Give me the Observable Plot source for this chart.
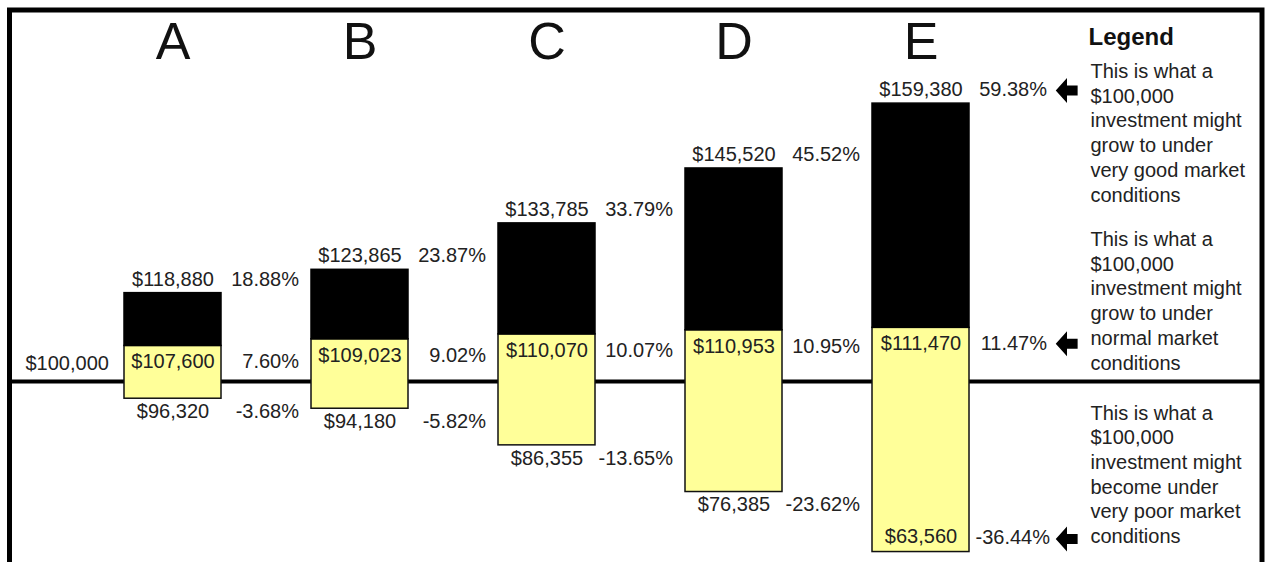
<!DOCTYPE html>
<html>
<head>
<meta charset="utf-8">
<script src="https://cdn.jsdelivr.net/npm/d3@7"></script>
<script src="https://cdn.jsdelivr.net/npm/@observablehq/plot@0.6"></script>
<style>
  html, body { margin: 0; padding: 0; background: #fff; }
  #chart svg { display: block; }
</style>
</head>
<body>
<div id="chart"></div>
<script>
// ---- data ----
const categories = ["A", "B", "C", "D", "E"];
const startValue = 100000;
const highValues = [118880, 123865, 133785, 145520, 159380];
const normalValues = [107600, 109023, 110070, 110953, 111470];
const lowValues = [96320, 94180, 86355, 76385, 63560];
const highPct = ["18.88%", "23.87%", "33.79%", "45.52%", "59.38%"];
const normalPct = ["7.60%", "9.02%", "10.07%", "10.95%", "11.47%"];
const lowPct = ["-3.68%", "-5.82%", "-13.65%", "-23.62%", "-36.44%"];
const legendTitle = "Legend";
const legendHigh = "This is what a\n$100,000\ninvestment might\ngrow to under\nvery good market\nconditions";
const legendNormal = "This is what a\n$100,000\ninvestment might\ngrow to under\nnormal market\nconditions";
const legendLow = "This is what a\n$100,000\ninvestment might\nbecome under\nvery poor market\nconditions";

const rows = categories.map((c, i) => ({
  cat: c, high: highValues[i], normal: normalValues[i], low: lowValues[i],
  highPct: highPct[i], normalPct: normalPct[i], lowPct: lowPct[i]
}));
const last = rows[rows.length - 1];

const money = v => "$" + d3.format(",")(v);
const font = "'Liberation Sans', Arial, Helvetica, sans-serif";
const ink = "#222";
const fs = 20;
const pctDx = 126;
const lowInside = d => d.low < 70000;

const arrowSymbol = {
  draw(ctx, size) {
    const s = Math.sqrt(size / Math.PI);
    ctx.moveTo(-s * 0.9, 0);
    ctx.lineTo(0, -s);
    ctx.lineTo(0, -s * 0.4);
    ctx.lineTo(s * 0.85, -s * 0.4);
    ctx.lineTo(s * 0.85, s * 0.4);
    ctx.lineTo(0, s * 0.4);
    ctx.lineTo(0, s);
    ctx.closePath();
  }
};
const arrow = (key, dy) => Plot.dot([last], {
  x: "cat", y: key, dx: 146, dy, r: 12.5, symbol: arrowSymbol, fill: "#000", stroke: "none"
});
const legendBlock = (text, dy) => Plot.text([text], {
  text: d => d, frameAnchor: "top-left", dx: 1090, dy, lineAnchor: "top",
  textAnchor: "start", lineHeight: 1.235, fontSize: fs, fill: ink, fontFamily: font
});

const chart = Plot.plot({
  width: 1268,
  height: 562,
  marginTop: 0, marginRight: 0, marginBottom: 0, marginLeft: 0,
  style: { fontFamily: font, background: "#fff", overflow: "hidden" },
  x: { type: "band", domain: categories, range: [32.6, 1059.6], padding: 0.483, axis: null },
  y: { type: "linear", domain: [50000, 170000], range: [381 + 50 * 4.68, 381 - 70 * 4.68], axis: null },
  marks: [
    Plot.frame({ stroke: "#000", strokeWidth: 5, insetLeft: 9, insetTop: 9.5, insetRight: 6.5, insetBottom: -10 }),
    Plot.ruleY([startValue], { stroke: "#000", strokeWidth: 4, insetLeft: 9, insetRight: 6.5 }),
    // yellow (poor -> normal) and black (normal -> very good)
    Plot.barY(rows, { x: "cat", y1: "low", y2: "normal", fill: "#ffff99", stroke: "#111", strokeWidth: 1.5 }),
    Plot.barY(rows, { x: "cat", y1: "normal", y2: "high", fill: "#000", stroke: "#000", strokeWidth: 1.5 }),
    // category letters
    Plot.text(categories, { x: d => d, text: d => d, frameAnchor: "top", dy: 22, lineAnchor: "top", fontSize: 52, fill: "#111", fontFamily: font }),
    // starting value
    Plot.text([startValue], { y: d => d, text: money, frameAnchor: "left", dx: 25, dy: -18, textAnchor: "start", fontSize: fs, fill: ink, fontFamily: font }),
    // very good
    Plot.text(rows, { x: "cat", y: "high", text: d => money(d.high), dy: -14, fontSize: fs, fill: ink, fontFamily: font }),
    Plot.text(rows, { x: "cat", y: "high", text: "highPct", dy: -14, dx: pctDx, textAnchor: "end", fontSize: fs, fill: ink, fontFamily: font }),
    // normal
    Plot.text(rows, { x: "cat", y: "normal", text: d => money(d.normal), dy: 16, fontSize: fs, fill: ink, fontFamily: font }),
    Plot.text(rows, { x: "cat", y: "normal", text: "normalPct", dy: 16, dx: pctDx, textAnchor: "end", fontSize: fs, fill: ink, fontFamily: font }),
    // very poor (below bar, or inside when no room)
    Plot.text(rows, { filter: d => !lowInside(d), x: "cat", y: "low", text: d => money(d.low), dy: 13, fontSize: fs, fill: ink, fontFamily: font }),
    Plot.text(rows, { filter: d => !lowInside(d), x: "cat", y: "low", text: "lowPct", dy: 13, dx: pctDx, textAnchor: "end", fontSize: fs, fill: ink, fontFamily: font }),
    Plot.text(rows, { filter: lowInside, x: "cat", y: "low", text: d => money(d.low), dy: -15, fontSize: fs, fill: ink, fontFamily: font }),
    Plot.text(rows, { filter: lowInside, x: "cat", y: "low", text: "lowPct", dy: -14, dx: pctDx + 3, textAnchor: "end", fontSize: fs, fill: ink, fontFamily: font }),
    // arrows pointing at column E values
    arrow("high", -13),
    arrow("normal", 16),
    arrow("low", -13),
    // legend
    Plot.text([legendTitle], { text: d => d, frameAnchor: "top-left", dx: 1088, dy: 27, lineAnchor: "top", textAnchor: "start", fontWeight: "bold", fontSize: 24, fill: "#111", fontFamily: font }),
    legendBlock(legendHigh, 60),
    legendBlock(legendNormal, 228),
    legendBlock(legendLow, 401.5)
  ]
});
document.getElementById("chart").appendChild(chart);
</script>
</body>
</html>
